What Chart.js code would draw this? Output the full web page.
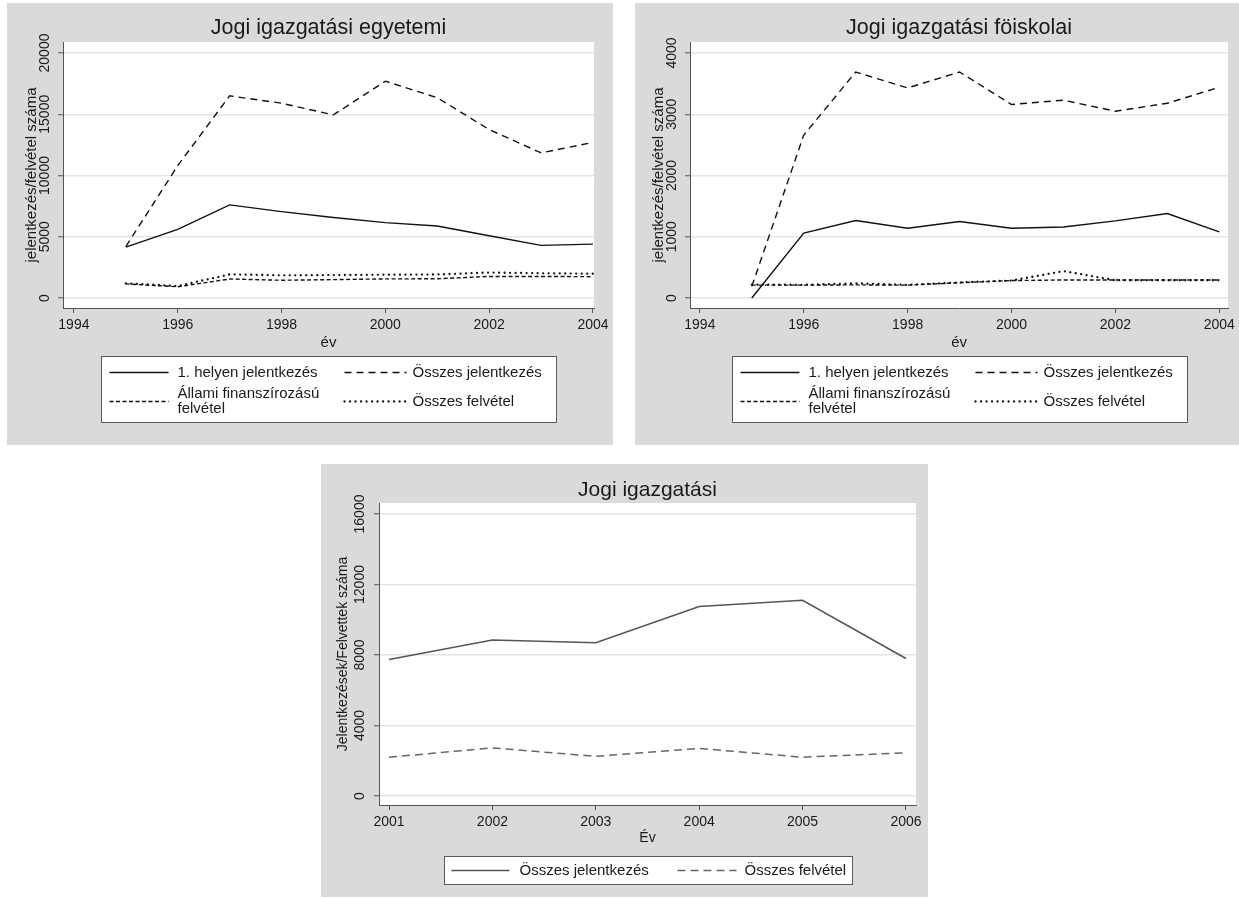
<!DOCTYPE html>
<html>
<head>
<meta charset="utf-8">
<script src="https://cdn.jsdelivr.net/npm/chart.js@4.4.1/dist/chart.umd.min.js"></script>
<style>
html,body{margin:0;padding:0;background:#ffffff;width:1239px;height:899px;overflow:hidden;}
.panel{position:absolute;background:#dadada;}
canvas{display:block;}
</style>
</head>
<body>
<div class="panel" style="left:7px;top:3px;width:606px;height:442px"><canvas id="c1" width="606" height="442"></canvas></div>
<div class="panel" style="left:635px;top:3px;width:604px;height:442px"><canvas id="c2" width="604" height="442"></canvas></div>
<div class="panel" style="left:321px;top:464px;width:607px;height:433px"><canvas id="c3" width="607" height="433"></canvas></div>
<script>
// ---------- DATA ----------
const egyYears   = [1995, 1996, 1997, 1998, 1999, 2000, 2001, 2002, 2003, 2004];
const egyElso    = [4150, 5600, 7600, 7050, 6570, 6150, 5880, 5080, 4300, 4400];
const egyOsszJel = [4200, 10800, 16500, 15900, 14950, 17700, 16350, 13750, 11850, 12700];
const egyAllami  = [1150, 920, 1550, 1450, 1500, 1560, 1570, 1760, 1760, 1740];
const egyOsszFel = [1200, 980, 1930, 1850, 1870, 1900, 1920, 2080, 2020, 1980];

const foiYears   = [1995, 1996, 1997, 1998, 1999, 2000, 2001, 2002, 2003, 2004];
const foiElso    = [0, 1060, 1265, 1140, 1250, 1140, 1160, 1260, 1380, 1080];
const foiOsszJel = [190, 2660, 3690, 3430, 3690, 3160, 3230, 3050, 3180, 3440];
const foiAllami  = [210, 210, 215, 210, 250, 285, 295, 295, 295, 295];
const foiOsszFel = [220, 215, 240, 215, 255, 285, 440, 290, 290, 290];

const botYears   = [2001, 2002, 2003, 2004, 2005, 2006];
const botOsszJel = [7750, 8850, 8700, 10750, 11100, 7800];
const botOsszFel = [2200, 2730, 2250, 2700, 2200, 2450];

const topXTicks = [1994, 1996, 1998, 2000, 2002, 2004];
const egyYTicks = [0, 5000, 10000, 15000, 20000];
const foiYTicks = [0, 1000, 2000, 3000, 4000];
const botXTicks = [2001, 2002, 2003, 2004, 2005, 2006];
const botYTicks = [0, 4000, 8000, 12000, 16000];

const lblElso = '1. helyen jelentkezés';
const lblOsszJel = 'Összes jelentkezés';
const lblAllami = 'Állami finanszírozású\nfelvétel';
const lblOsszFel = 'Összes felvétel';

// ---------- HELPERS ----------
const FONT = "'Liberation Sans', Arial, Helvetica, sans-serif";
const pts = (xs, ys) => xs.map((x, i) => ({x: x, y: ys[i]}));

const decor = {
  id: 'decor',
  beforeDraw(chart, args, o) {
    const {ctx, chartArea: a} = chart;
    ctx.save();
    ctx.fillStyle = '#ffffff';
    ctx.fillRect(a.left, a.top, a.right - a.left, a.bottom - a.top);
    ctx.restore();
  },
  afterDraw(chart, args, o) {
    const {ctx, chartArea: a} = chart;
    const cx = (a.left + a.right) / 2;
    const cy = (a.top + a.bottom) / 2;
    ctx.save();
    ctx.fillStyle = '#1a1a1a';
    ctx.textAlign = 'center';
    ctx.textBaseline = 'middle';
    // title
    ctx.font = o.titleSize + 'px ' + FONT;
    ctx.fillText(o.title, cx, a.top - o.titleOffset);
    // rotated y tick labels
    const ys = chart.scales.y;
    ctx.font = o.tickSize + 'px ' + FONT;
    ys.ticks.forEach(t => {
      const py = ys.getPixelForValue(t.value);
      ctx.save();
      ctx.translate(a.left - o.yLabelOffset, py);
      ctx.rotate(-Math.PI / 2);
      ctx.fillText(String(t.label), 0, 0);
      ctx.restore();
    });
    // y title
    ctx.font = o.axisTitleSize + 'px ' + FONT;
    ctx.save();
    ctx.translate(a.left - o.yTitleOffset, cy);
    ctx.rotate(-Math.PI / 2);
    ctx.fillText(o.yTitle, 0, 0);
    ctx.restore();
    // x title
    ctx.fillText(o.xTitle, cx, a.bottom + o.xTitleOffset);
    // legend
    const L = o.legend;
    const bx = Math.round(cx - L.width / 2) + 0.5;
    const by = Math.round(a.bottom + L.top) + 0.5;
    ctx.fillStyle = '#ffffff';
    ctx.fillRect(bx, by, L.width, L.height);
    ctx.strokeStyle = '#5a5a5a';
    ctx.lineWidth = 1;
    ctx.setLineDash([]);
    ctx.strokeRect(bx, by, L.width, L.height);
    ctx.font = L.fontSize + 'px ' + FONT;
    ctx.textAlign = 'left';
    L.items.forEach(it => {
      const ds = chart.data.datasets[it.ds];
      const ry = by + it.y;
      ctx.save();
      ctx.strokeStyle = ds.borderColor;
      ctx.lineWidth = ds.borderWidth;
      ctx.lineCap = ds.borderCapStyle || 'butt';
      ctx.setLineDash(ds.borderDash || []);
      ctx.beginPath();
      ctx.moveTo(bx + it.x0, ry);
      ctx.lineTo(bx + it.x1, ry);
      ctx.stroke();
      ctx.restore();
      ctx.fillStyle = '#1a1a1a';
      const lines = ds.label.split('\n');
      const lh = L.lineHeight;
      lines.forEach((ln, k) => {
        ctx.fillText(ln, bx + it.tx, ry + (k - (lines.length - 1) / 2) * lh);
      });
    });
    ctx.restore();
  }
};
Chart.register(decor);

function makeChart(id, cfg) {
  const W = cfg.W, H = cfg.H, CA = cfg.area;
  const yW = 6, xH = 30;
  new Chart(document.getElementById(id), {
    type: 'line',
    data: {datasets: cfg.datasets},
    options: {
      responsive: false,
      animation: false,
      devicePixelRatio: 1,
      layout: {padding: {left: CA.left - yW, top: CA.top, right: W - CA.right, bottom: H - CA.bottom - xH}},
      elements: {point: {radius: 0}, line: {tension: 0}},
      plugins: {
        legend: {display: false},
        title: {display: false},
        tooltip: {enabled: false},
        decor: cfg.decor
      },
      scales: {
        x: {
          type: 'linear',
          min: cfg.xMin, max: cfg.xMax,
          afterBuildTicks: s => { s.ticks = cfg.xTicks.map(v => ({value: v})); },
          afterFit: s => { s.height = xH; },
          ticks: {
            callback: v => String(v),
            color: '#1a1a1a',
            font: {family: FONT, size: 14},
            padding: 4,
            maxRotation: 0, minRotation: 0,
            autoSkip: false
          },
          grid: {drawOnChartArea: false, drawTicks: true, tickLength: 5, tickColor: '#555555', tickWidth: 1},
          border: {display: true, color: '#555555', width: 1}
        },
        y: {
          type: 'linear',
          min: cfg.yMin, max: cfg.yMax,
          afterBuildTicks: s => { s.ticks = cfg.yTicks.map(v => ({value: v})); },
          afterFit: s => { s.width = yW; },
          ticks: {display: false, callback: v => String(v)},
          grid: {drawOnChartArea: true, color: '#e4e4e4', lineWidth: 1.5, drawTicks: true, tickLength: 5, tickColor: '#555555', tickWidth: 1},
          border: {display: true, color: '#555555', width: 1}
        }
      }
    }
  });
}

const BLK = '#111111';
function topDatasets(years, a, b, c, d) {
  return [
    {label: lblElso, data: pts(years, a), borderColor: BLK, borderWidth: 1.4, borderDash: []},
    {label: lblOsszJel, data: pts(years, b), borderColor: BLK, borderWidth: 1.4, borderDash: [7, 5]},
    {label: lblAllami, data: pts(years, c), borderColor: BLK, borderWidth: 1.4, borderDash: [4, 2.5]},
    {label: lblOsszFel, data: pts(years, d), borderColor: BLK, borderWidth: 2.3, borderDash: [0.01, 5.5], borderCapStyle: 'round'}
  ];
}
const topLegend = {
  width: 455, height: 66, top: 48, fontSize: 15, lineHeight: 15,
  items: [
    {ds: 0, x0: 8, x1: 67, tx: 76, y: 16},
    {ds: 1, x0: 243, x1: 305, tx: 311, y: 16},
    {ds: 2, x0: 8, x1: 67, tx: 76, y: 45},
    {ds: 3, x0: 243, x1: 305, tx: 311, y: 45}
  ]
};
function topDecor(title) {
  return {
    title: title, titleSize: 21.5, titleOffset: 14,
    tickSize: 14, yLabelOffset: 18,
    axisTitleSize: 15, yTitle: 'jelentkezés/felvétel száma', yTitleOffset: 31,
    xTitle: 'év', xTitleOffset: 35,
    legend: topLegend
  };
}

makeChart('c1', {
  W: 606, H: 442, area: {left: 56, right: 587, top: 39, bottom: 305},
  xMin: 1993.79, xMax: 2004.02, yMin: -816, yMax: 20898,
  xTicks: topXTicks, yTicks: egyYTicks,
  datasets: topDatasets(egyYears, egyElso, egyOsszJel, egyAllami, egyOsszFel),
  decor: topDecor('Jogi igazgatási egyetemi')
});

makeChart('c2', {
  W: 604, H: 442, area: {left: 55, right: 594, top: 39, bottom: 305},
  xMin: 1993.81, xMax: 2004.17, yMin: -163, yMax: 4180,
  xTicks: topXTicks, yTicks: foiYTicks,
  datasets: topDatasets(foiYears, foiElso, foiOsszJel, foiAllami, foiOsszFel),
  decor: topDecor('Jogi igazgatási föiskolai')
});

makeChart('c3', {
  W: 607, H: 433, area: {left: 58, right: 595, top: 39, bottom: 341},
  xMin: 2000.903, xMax: 2006.097, yMin: -511, yMax: 16624,
  xTicks: botXTicks, yTicks: botYTicks,
  datasets: [
    {label: 'Összes jelentkezés', data: pts(botYears, botOsszJel), borderColor: '#555555', borderWidth: 1.5, borderDash: []},
    {label: 'Összes felvétel', data: pts(botYears, botOsszFel), borderColor: '#666666', borderWidth: 1.5, borderDash: [8, 5]}
  ],
  decor: {
    title: 'Jogi igazgatási', titleSize: 21, titleOffset: 13,
    tickSize: 14, yLabelOffset: 19,
    axisTitleSize: 14, yTitle: 'Jelentkezések/Felvettek száma', yTitleOffset: 36,
    xTitle: 'Év', xTitleOffset: 33,
    legend: {
      width: 408, height: 28, top: 51, fontSize: 15, lineHeight: 15,
      items: [
        {ds: 0, x0: 7, x1: 65, tx: 75, y: 14},
        {ds: 1, x0: 233, x1: 292, tx: 300, y: 14}
      ]
    }
  }
});
</script>
</body>
</html>
